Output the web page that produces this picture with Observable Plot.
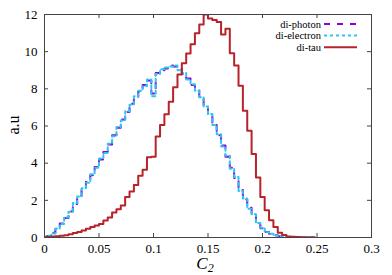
<!DOCTYPE html>
<html><head><meta charset="utf-8">
<script src="https://cdn.jsdelivr.net/npm/d3@7"></script>
<script src="https://cdn.jsdelivr.net/npm/@observablehq/plot@0.6"></script>
<style>body{margin:0;background:#fff} svg{display:block} svg text{font-family:"Liberation Serif","Times New Roman",serif !important}</style>
</head><body><div id="chart"></div>
<script>
// Bin centres of C2 (histogram steps are centred on these values)
const binCenters = [0.000,0.004,0.008,0.012,0.016,0.020,0.024,0.028,0.032,0.036,
  0.040,0.044,0.048,0.052,0.056,0.060,0.064,0.068,0.072,0.076,
  0.080,0.084,0.088,0.092,0.096,0.100,0.104,0.108,0.112,0.116,
  0.120,0.124,0.128,0.132,0.136,0.140,0.144,0.148,0.152,0.156,
  0.160,0.164,0.168,0.172,0.176,0.180,0.184,0.188,0.192,0.196,
  0.200,0.204,0.208,0.212,0.216,0.220,0.224,0.228,0.232,0.236,
  0.240,0.244,0.248];
const diPhoton = [0.03,0.08,0.25,0.45,0.75,1.05,1.40,1.80,2.25,2.60,
  3.00,3.35,3.80,4.20,4.60,5.00,5.50,5.90,6.35,6.75,
  7.20,7.55,7.85,8.20,8.45,7.75,8.85,9.00,9.10,9.25,
  9.20,9.05,8.80,8.55,8.20,7.95,7.50,7.10,6.60,6.10,
  5.50,4.95,4.35,3.75,3.20,2.55,2.05,1.60,1.20,0.80,
  0.50,0.30,0.20,0.12,0.07,0.04,0.02,0.01,0,0,
  0,0,0];
const diElectron = [0.02,0.10,0.22,0.48,0.72,1.08,1.38,1.85,2.20,2.65,
  2.95,3.40,3.75,4.25,4.55,5.05,5.45,5.95,6.30,6.80,
  7.15,7.60,7.90,8.15,8.50,7.60,8.80,9.05,9.15,9.20,
  9.25,9.00,8.85,8.50,8.25,7.90,7.55,7.05,6.65,6.05,
  5.55,4.90,4.40,3.70,3.25,2.50,2.10,1.55,1.25,0.78,
  0.52,0.28,0.20,0.11,0.07,0.03,0.02,0.01,0,0,
  0,0,0];
const diTau = [0.02,0.03,0.05,0.07,0.09,0.12,0.17,0.24,0.30,0.38,
  0.47,0.56,0.65,0.73,0.92,1.07,1.34,1.52,1.72,2.18,
  2.47,2.82,3.32,3.64,4.32,4.35,5.44,6.05,6.63,7.30,
  8.08,8.77,9.38,9.90,10.40,10.99,11.46,12.00,11.78,11.71,
  11.59,10.92,11.23,9.91,9.25,8.17,6.82,5.74,4.49,3.23,
  2.18,1.47,0.93,0.57,0.26,0.13,0.06,0.04,0.03,0.02,
  0.01,0.01,0.00];
const xTicks = [0,0.05,0.1,0.15,0.2,0.25,0.3];
const xTickLabels = ["0","0.05","0.1","0.15","0.2","0.25","0.3"];
const yTicks = [0,2,4,6,8,10,12];
const seriesNames = ["di-photon","di-electron","di-tau"];
const seriesColors = ["#9400d3","#2ec5f2","#b8232b"];
const seriesDash = ["6,7","3,3",null];
const seriesValues = [diPhoton, diElectron, diTau];

const W = 392, H = 275;
const mL = 44, mR = 21, mT = 14, mB = 38;
const plotW = W - mL - mR, plotH = H - mT - mB;
const tickLen = 4;
const font = "Liberation Serif, Times New Roman, serif";

const rows = vals => binCenters.map((x, i) => ({x, y: vals[i]}));

const lineMarks = seriesValues.map((vals, i) =>
  Plot.line(rows(vals), {x: "x", y: "y", curve: "step", stroke: seriesColors[i],
    strokeWidth: 2, strokeDasharray: seriesDash[i], clip: true}));

const plot = Plot.plot({
  width: W, height: H,
  marginLeft: mL, marginRight: mR, marginTop: mT, marginBottom: mB,
  style: {fontFamily: font, fontSize: "13px", color: "#000", background: "#fff", overflow: "visible"},
  x: {domain: [0, 0.3]},
  y: {domain: [0, 12]},
  marks: [
    Plot.axisX(xTicks, {tickSize: 0, tickPadding: 6, tickFormat: (d, i) => xTickLabels[i], label: null, fontSize: 13, fontFamily: font}),
    Plot.axisY(yTicks, {tickSize: 0, tickPadding: 7, label: null, fontSize: 13, fontFamily: font}),
    Plot.ruleX(xTicks, {stroke: "#444", insetTop: plotH - tickLen}),
    Plot.ruleX(xTicks, {stroke: "#444", insetBottom: plotH - tickLen}),
    Plot.ruleY(yTicks, {stroke: "#444", insetRight: plotW - tickLen}),
    Plot.ruleY(yTicks, {stroke: "#444", insetLeft: plotW - tickLen}),
    ...lineMarks,
    Plot.frame({stroke: "#444"})
  ]
});
document.getElementById("chart").appendChild(plot);

const svg = d3.select(plot);
// Legend
const leg = svg.append("g").attr("font-family", font).attr("font-size", 10.5);
seriesNames.forEach((name, i) => {
  const yy = 24 + i * 11.6;
  leg.append("text").attr("x", 321).attr("y", yy).attr("text-anchor", "end")
    .attr("dominant-baseline", "central").attr("fill", "#000").text(name);
  const ln = leg.append("line").attr("x1", 324).attr("x2", 357).attr("y1", yy).attr("y2", yy)
    .attr("stroke", seriesColors[i]).attr("stroke-width", 2);
  if (seriesDash[i]) ln.attr("stroke-dasharray", seriesDash[i]);
});
// Axis titles
svg.append("text").attr("transform", "translate(13,125) rotate(-90)")
  .attr("text-anchor", "middle").attr("dominant-baseline", "central")
  .attr("font-family", font).attr("font-size", 16).attr("fill", "#000").text("a.u");
const xt = svg.append("text").attr("x", 205).attr("y", 269).attr("text-anchor", "middle")
  .attr("font-family", font).attr("font-size", 17).attr("font-style", "italic").attr("fill", "#000");
xt.append("tspan").text("C");
xt.append("tspan").attr("font-size", 12).attr("dy", 3).text("2");
</script>
</body></html>
